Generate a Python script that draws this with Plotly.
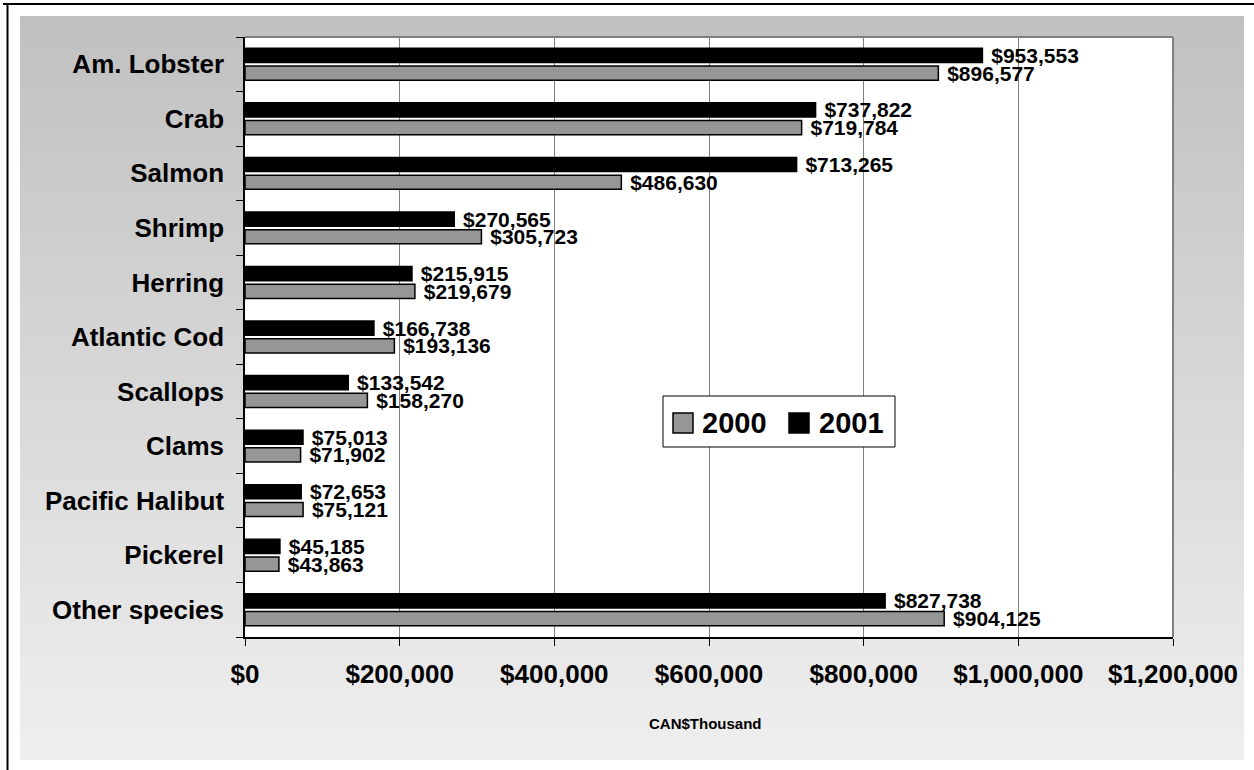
import plotly.graph_objects as go

# Landed value by species, CAN$ thousand
species = ["Am. Lobster", "Crab", "Salmon", "Shrimp", "Herring", "Atlantic Cod",
           "Scallops", "Clams", "Pacific Halibut", "Pickerel", "Other species"]
value_2000 = [896577, 719784, 486630, 305723, 219679, 193136,
              158270, 71902, 75121, 43863, 904125]
value_2001 = [953553, 737822, 713265, 270565, 215915, 166738,
              133542, 75013, 72653, 45185, 827738]
years = ["2000", "2001"]
year_colors = ["#969696", "#000000"]
x_ticks = [0, 200000, 400000, 600000, 800000, 1000000, 1200000]
x_tick_labels = ["$0", "$200,000", "$400,000", "$600,000", "$800,000",
                 "$1,000,000", "$1,200,000"]

FONT = "Liberation Sans, Arial, sans-serif"

# page geometry (pixels) used to convert to paper coordinates
W, H = 1254, 770
PL, PR, PT, PB = 245, 1173, 37, 637


def px(x):
    return (x - PL) / (PR - PL)


def py(y):
    return (PB - y) / (PB - PT)


fig = go.Figure()
for name, vals, col in zip(years, [value_2000, value_2001], year_colors):
    fig.add_trace(go.Bar(
        name=name, y=species, x=vals, orientation="h",
        marker=dict(color=col, line=dict(color="#000000", width=1.5)),
        texttemplate="\u00a0$%{x:,}", textposition="outside",
        textfont=dict(family=FONT, size=21, color="#000000", weight="bold"),
        constraintext="none", cliponaxis=False, showlegend=False,
    ))

shapes = []
# vertical grey gradient behind the chart
top_y, bot_y = 16, 760
c_top, c_bot = 192, 239
n = 62
step = (bot_y - top_y) / n
for i in range(n):
    y0 = top_y + i * step
    y1 = min(bot_y, y0 + step + 1)
    c = round(c_top + (c_bot - c_top) * (i + 0.5) / n)
    shapes.append(dict(type="rect", xref="paper", yref="paper",
                       x0=px(20), x1=px(1244), y0=py(y1), y1=py(y0),
                       fillcolor=f"rgb({c},{c},{c})", line=dict(width=0),
                       layer="below"))
# white plot area
shapes.append(dict(type="rect", xref="paper", yref="paper", x0=0, x1=1, y0=0, y1=1,
                   fillcolor="#ffffff", line=dict(width=0), layer="below"))
# plot area border (top and right)
shapes.append(dict(type="line", xref="paper", yref="paper", x0=0, x1=1, y0=1, y1=1,
                   line=dict(color="#808080", width=2)))
shapes.append(dict(type="line", xref="paper", yref="paper", x0=1, x1=1, y0=0, y1=1,
                   line=dict(color="#808080", width=2)))
# page frame lines
shapes.append(dict(type="line", xref="paper", yref="paper", x0=px(3), x1=px(1254),
                   y0=py(4), y1=py(4), line=dict(color="#000000", width=2)))
shapes.append(dict(type="line", xref="paper", yref="paper", x0=px(7.5), x1=px(7.5),
                   y0=py(4), y1=py(770), line=dict(color="#000000", width=2)))
# legend box and swatches
shapes.append(dict(type="rect", xref="paper", yref="paper", x0=px(663), x1=px(895),
                   y0=py(447), y1=py(396), fillcolor="#ffffff",
                   line=dict(color="#000000", width=1)))
for x0, col in zip([673, 789], year_colors):
    shapes.append(dict(type="rect", xref="paper", yref="paper", x0=px(x0), x1=px(x0 + 20),
                       y0=py(433), y1=py(413), fillcolor=col,
                       line=dict(color="#000000", width=1.5)))

annotations = []
for x0, name in zip([700, 817], years):
    annotations.append(dict(xref="paper", yref="paper", x=px(x0), y=py(423),
                            xanchor="left", yanchor="middle", text=name, showarrow=False,
                            font=dict(family=FONT, size=29, color="#000000", weight="bold")))
annotations.append(dict(xref="paper", yref="paper", x=px(705.5), y=py(723),
                        xanchor="center", yanchor="middle", text="CAN$Thousand",
                        showarrow=False,
                        font=dict(family=FONT, size=15, color="#000000", weight="bold")))

fig.update_layout(
    width=W, height=H,
    margin=dict(l=PL, r=W - PR, t=PT, b=H - PB, autoexpand=False),
    paper_bgcolor="#ffffff", plot_bgcolor="#ffffff",
    barmode="group", bargap=0.35, bargroupgap=0.2,
    shapes=shapes, annotations=annotations,
    xaxis=dict(range=[0, 1200000], tickvals=x_ticks, ticktext=x_tick_labels,
               showgrid=True, gridcolor="#808080", gridwidth=1,
               showline=True, linecolor="#000000", linewidth=1.5,
               ticks="outside", ticklen=7, tickcolor="#000000", tickwidth=1,
               ticklabelstandoff=6,
               tickfont=dict(family=FONT, size=26, color="#000000", weight="bold"),
               automargin=False, zeroline=False, fixedrange=True),
    yaxis=dict(categoryorder="array", categoryarray=species[::-1],
               tickson="boundaries", ticks="outside", ticklen=7,
               tickcolor="#000000", tickwidth=1,
               ticklabelstandoff=14,
               showline=True, linecolor="#000000", linewidth=1.5,
               showgrid=False,
               tickfont=dict(family=FONT, size=26, color="#000000", weight="bold"),
               automargin=False, fixedrange=True),
)

fig.write_html("out.html", config={"displayModeBar": False})
